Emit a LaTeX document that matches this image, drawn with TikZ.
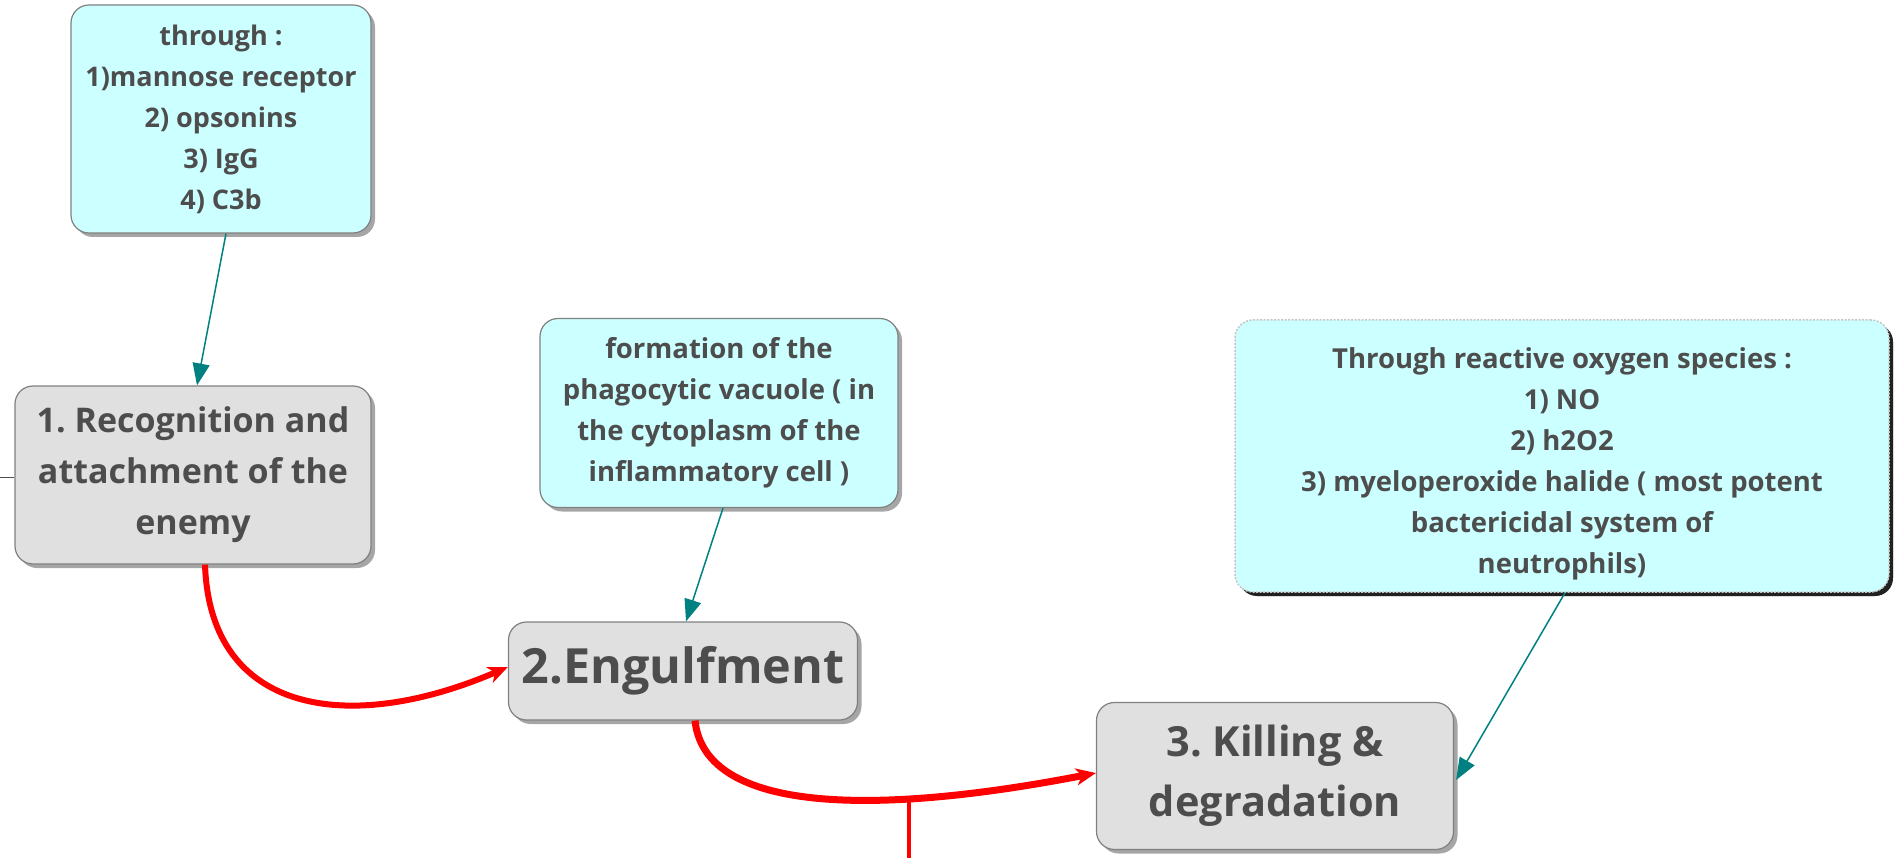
\documentclass[tikz,border=0pt]{standalone}
\usepackage{fontspec}
\setmainfont{Open Sans}
\frenchspacing
\usetikzlibrary{arrows.meta,shadows}
\definecolor{txtgray}{RGB}{77,77,77}
\definecolor{boxgray}{RGB}{224,224,224}
\definecolor{edgegray}{RGB}{128,128,128}
\definecolor{lcyan}{RGB}{204,255,255}
\definecolor{teal2}{RGB}{0,128,128}
\tikzset{
  basebox/.style={rectangle, rounded corners=18pt, draw=edgegray, line width=1.2pt,
    align=center, text=txtgray, inner sep=0pt,
    drop shadow={shadow xshift=4pt, shadow yshift=-4pt, fill=black, opacity=0.35}},
  stagebox/.style={basebox, fill=boxgray},
  notebox/.style={basebox, fill=lcyan},
  teallink/.style={draw=teal2, line width=1.5pt, -{Triangle[length=22pt,width=17pt]}},
  redlink/.style={draw=red, -{Stealth[length=20pt,width=17pt,inset=6pt]}},
}
\begin{document}
\begin{tikzpicture}[x=1pt,y=-1pt]
\useasboundingbox (0,0) rectangle (1895,858);

\node[notebox, minimum width=300pt, minimum height=228pt,
  font=\fontsize{27}{41}\selectfont\bfseries] (thr) at (221,119)
  {through :\\1)mannose receptor\\2) opsonins\\3) IgG\\4) C3b};

\node[stagebox, minimum width=356pt, minimum height=178pt,
  font=\fontsize{34}{51}\selectfont\bfseries] (rec) at (193,475)
  {1. Recognition and\\attachment of the\\enemy};

\node[notebox, minimum width=358pt, minimum height=189pt,
  font=\fontsize{27.5}{41}\selectfont\bfseries] (vac) at (719,413)
  {formation of the\\phagocytic vacuole ( in\\the cytoplasm of the\\inflammatory cell )};

\node[stagebox, minimum width=349pt, minimum height=98pt,
  font=\fontsize{48.5}{56}\selectfont\bfseries] (eng) at (683,671)
  {2.Engulfment};

\node[notebox, draw=gray!45, dashed, dash pattern=on 2pt off 1.5pt, line width=1.5pt,
  drop shadow={shadow xshift=4pt, shadow yshift=-4pt, fill=black, opacity=0.8},
  minimum width=654pt, minimum height=272pt,
  font=\fontsize{27.5}{41}\selectfont\bfseries] (ros) at (1562,456)
  {\rule{0pt}{36pt}Through reactive oxygen species :\\1) NO\\2) h2O2\\3) myeloperoxide halide ( most potent\\bactericidal system of\\neutrophils)};

\node[stagebox, minimum width=357pt, minimum height=147pt,
  font=\fontsize{41.5}{60}\selectfont\bfseries] (kil) at (1275,776)
  {3. Killing \&\\degradation};

% teal links
\draw[teallink] ([xshift=5pt]thr.south) -- ([xshift=4pt]rec.north);
\draw[teallink] ([xshift=4pt]vac.south) -- ([xshift=3pt]eng.north);
\draw[teallink] ([xshift=3pt]ros.south) -- ([xshift=2pt,yshift=-4pt]kil.east);

% red links
\draw[redlink, line width=6pt] ([xshift=12pt]rec.south) .. controls (210,715) and (350,735) .. ([yshift=4pt]eng.west);
\draw[redlink, line width=7pt] ([xshift=12pt]eng.south) .. controls (705,815) and (880,815) .. ([yshift=3pt]kil.west);

\coordinate (jtop) at (909,799);
\coordinate (jbot) at (909,860);
\draw[red, line width=3.5pt] (jtop) -- (jbot);

\coordinate (lft) at (0,477);
\draw[txtgray, line width=1pt] (lft) -- (rec.west |- lft);
\end{tikzpicture}
\end{document}
